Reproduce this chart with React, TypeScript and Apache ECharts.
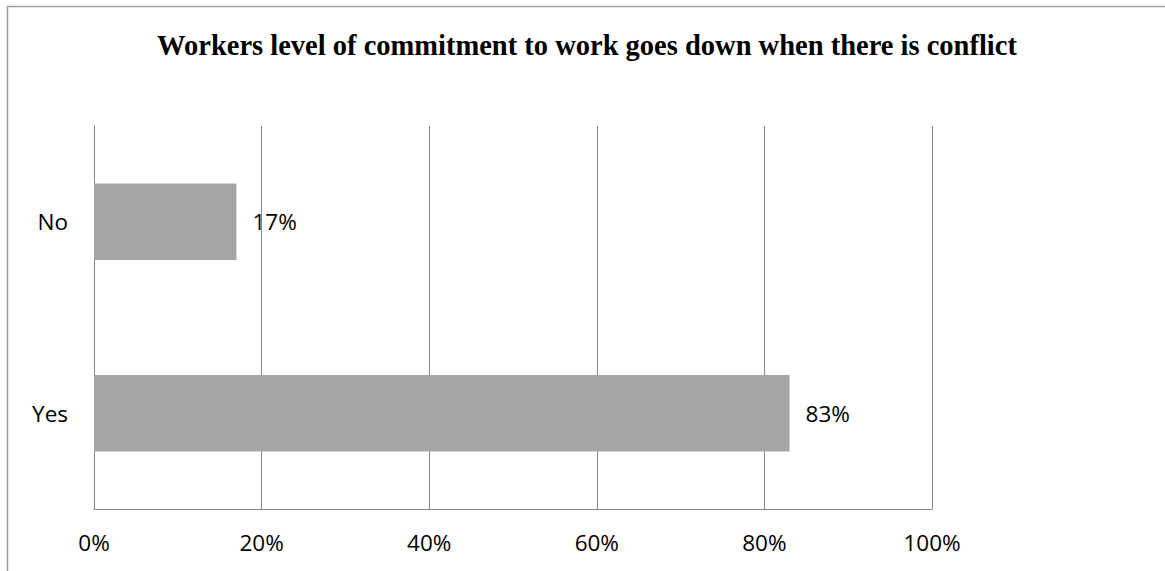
import React, { useEffect, useRef } from "react";
import * as echarts from "echarts";

const titleText = "Workers level of commitment to work goes down when there is conflict";
const categories = ["Yes", "No"];
const values = [83, 17];
const xTicks = [0, 20, 40, 60, 80, 100];

export default function App() {
  const ref = useRef<HTMLDivElement>(null);
  useEffect(() => {
    if (!ref.current) return;
    const chart = echarts.init(ref.current, null, { renderer: "svg" });
    chart.setOption({
      animation: false,
      backgroundColor: "#ffffff",
      title: {
        text: titleText,
        left: 587,
        textAlign: "center",
        top: 26,
        textStyle: {
          fontFamily: "Liberation Serif",
          fontWeight: "bold",
          fontSize: 28.5,
          color: "#000",
        },
      },
      graphic: [
        {
          type: "polyline",
          shape: { points: [[7.5, 571], [7.5, 6.5], [1165, 6.5]] },
          style: { stroke: "#a0a0a0", lineWidth: 1.5, fill: null },
          silent: true,
        },
      ],
      grid: { left: 94, right: 233, top: 126, bottom: 62, containLabel: false },
      xAxis: {
        type: "value",
        min: 0,
        max: 100,
        interval: 20,
        axisLine: { show: true, lineStyle: { color: "#878787", width: 1 } },
        axisTick: { show: false },
        splitLine: { show: true, lineStyle: { color: "#878787", width: 1 } },
        axisLabel: {
          margin: 22,
          color: "#000",
          fontFamily: "Open Sans",
          fontSize: 22.5,
          formatter: (v: number) => (xTicks.includes(v) ? v + "%" : ""),
        },
      },
      yAxis: {
        type: "category",
        data: categories,
        axisLine: { show: true, lineStyle: { color: "#878787", width: 1 } },
        axisTick: { show: false },
        splitLine: { show: false },
        axisLabel: {
          margin: 26,
          color: "#000",
          fontFamily: "Open Sans",
          fontSize: 22.5,
        },
      },
      series: [
        {
          type: "bar",
          data: values,
          barCategoryGap: "60%",
          itemStyle: { color: "#a5a5a5" },
          label: {
            show: true,
            position: "right",
            distance: 16,
            color: "#000",
            fontFamily: "Open Sans",
            fontSize: 22.5,
            formatter: (p: any) => p.value + "%",
          },
        },
      ],
    });
    chart.setOption({ title: { left: 582 } });
    return () => chart.dispose();
  }, []);
  return (
    <div
      ref={ref}
      style={{ position: "fixed", left: 0, top: 0, width: 1165, height: 571 }}
    />
  );
}
